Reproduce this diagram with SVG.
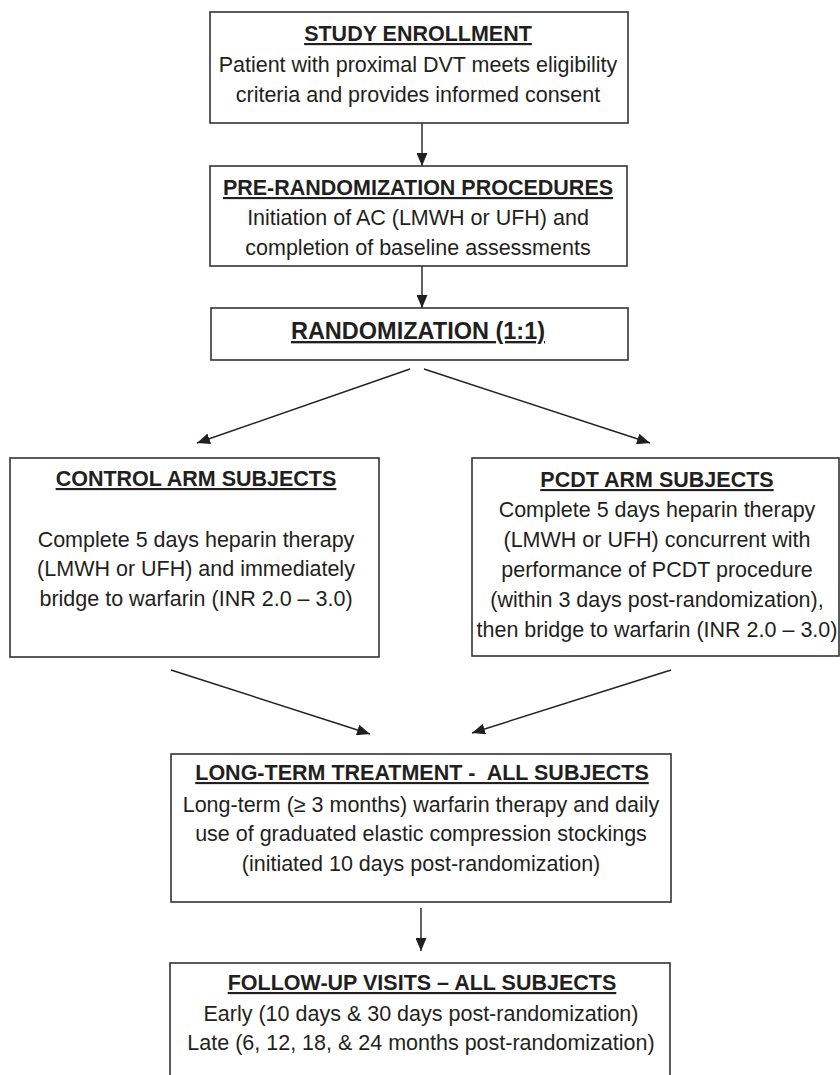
<svg xmlns="http://www.w3.org/2000/svg" width="840" height="1075" viewBox="0 0 840 1075">
<defs>
<marker id="ah" viewBox="0 0 13 11" refX="13" refY="5.5" markerWidth="13" markerHeight="11" markerUnits="userSpaceOnUse" orient="auto">
<path d="M0,0 L13,5.5 L0,11 z" fill="#231f20"/>
</marker>
<style>
.box{fill:#fff;stroke:#333;stroke-width:1.6}
.t{font-family:"Liberation Sans",Arial,Helvetica,sans-serif;font-size:21.5px;fill:#231f20;text-anchor:middle}
.h{font-weight:bold;text-decoration:underline;text-decoration-thickness:2.2px;text-underline-offset:3px;white-space:pre}
.big{font-size:23.5px}
.c{stroke:#231f20;stroke-width:1.4;fill:none;marker-end:url(#ah)}
</style>
</defs>
<rect width="840" height="1075" fill="#fff"/>
<g id="connectors">
<line class="c" x1="422" y1="123" x2="422" y2="166"/>
<line class="c" x1="422" y1="266" x2="422" y2="308"/>
<line class="c" x1="410" y1="369" x2="197" y2="443"/>
<line class="c" x1="424" y1="369" x2="650" y2="443"/>
<line class="c" x1="171" y1="670" x2="370" y2="734"/>
<line class="c" x1="671" y1="670" x2="472" y2="733"/>
<line class="c" x1="421" y1="908" x2="421" y2="951"/>
</g>
<g id="enrollment">
<rect class="box" x="210" y="12" width="418" height="111"/>
<text class="t h" x="418" y="41">STUDY ENROLLMENT</text>
<text class="t" x="418" y="72">Patient with proximal DVT meets eligibility</text>
<text class="t" x="418" y="102">criteria and provides informed consent</text>
</g>
<g id="prerandomization">
<rect class="box" x="210" y="166" width="417" height="100"/>
<text class="t h" x="418" y="195">PRE-RANDOMIZATION PROCEDURES</text>
<text class="t" x="418" y="225">Initiation of AC (LMWH or UFH) and</text>
<text class="t" x="418" y="255">completion of baseline assessments</text>
</g>
<g id="randomization">
<rect class="box" x="211" y="308" width="417" height="52"/>
<text class="t h big" x="418" y="339">RANDOMIZATION (1:1)</text>
</g>
<g id="control">
<rect class="box" x="10" y="458" width="369" height="199"/>
<text class="t h" x="196" y="486">CONTROL ARM SUBJECTS</text>
<text class="t" x="196" y="547">Complete 5 days heparin therapy</text>
<text class="t" x="196" y="576">(LMWH or UFH) and immediately</text>
<text class="t" x="196" y="606">bridge to warfarin (INR 2.0 – 3.0)</text>
</g>
<g id="pcdt">
<rect class="box" x="472" y="458" width="367" height="198"/>
<text class="t h" x="657" y="487">PCDT ARM SUBJECTS</text>
<text class="t" x="657" y="517">Complete 5 days heparin therapy</text>
<text class="t" x="657" y="547">(LMWH or UFH) concurrent with</text>
<text class="t" x="657" y="577">performance of PCDT procedure</text>
<text class="t" x="657" y="607">(within 3 days post-randomization),</text>
<text class="t" x="657" y="637">then bridge to warfarin (INR 2.0 – 3.0)</text>
</g>
<g id="longterm">
<rect class="box" x="171" y="754" width="500" height="148"/>
<text class="t h" x="422" y="780">LONG-TERM TREATMENT -  ALL SUBJECTS</text>
<text class="t" x="421" y="812">Long-term (≥ 3 months) warfarin therapy and daily</text>
<text class="t" x="421" y="841">use of graduated elastic compression stockings</text>
<text class="t" x="421" y="871">(initiated 10 days post-randomization)</text>
</g>
<g id="followup">
<rect class="box" x="170" y="963" width="500" height="130"/>
<text class="t h" x="422" y="990">FOLLOW-UP VISITS – ALL SUBJECTS</text>
<text class="t" x="421" y="1021">Early (10 days &amp; 30 days post-randomization)</text>
<text class="t" x="421" y="1050">Late (6, 12, 18, &amp; 24 months post-randomization)</text>
</g>
</svg>
